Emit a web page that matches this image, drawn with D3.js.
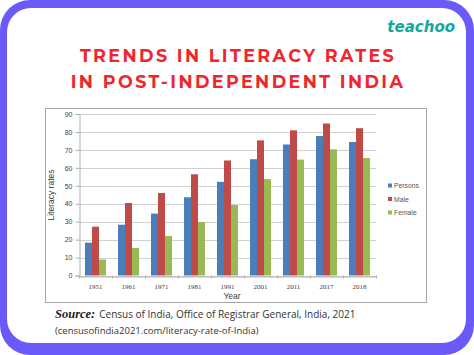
<!DOCTYPE html>
<html><head><meta charset="utf-8">
<script src="https://cdn.jsdelivr.net/npm/d3@7"></script>
<style>html,body{margin:0;padding:0;background:#fff;}svg{display:block;}</style>
</head><body>
<script>
const years = ["1951","1961","1971","1981","1991","2001","2011","2017","2018"];
const persons = [18.3, 28.3, 34.5, 43.6, 52.2, 64.8, 73.0, 77.7, 74.4];
const male = [27.2, 40.4, 46.0, 56.4, 64.1, 75.3, 80.9, 84.7, 82.1];
const female = [8.9, 15.4, 22.0, 29.8, 39.3, 53.7, 64.6, 70.3, 65.5];
const seriesNames = ["Persons","Male","Female"];
const seriesColors = ["#4a7ebb","#be4b48","#98b954"];
const yTicks = [0,10,20,30,40,50,60,70,80,90];

const W=474,H=355;
const svg=d3.select("body").append("svg").attr("width",W).attr("height",H);
svg.append("rect").attr("x",0).attr("y",0).attr("width",W).attr("height",H).attr("rx",30).attr("fill","#6a5af9");
svg.append("rect").attr("x",7).attr("y",8).attr("width",459).attr("height",335).attr("rx",24).attr("fill","#fff");

svg.append("text").attr("x",455).attr("y",32).attr("text-anchor","end")
  .attr("font-family","DejaVu Sans").attr("font-style","italic").attr("font-weight","bold")
  .attr("font-size",15).attr("fill","#14a89c").text("teachoo");

const tl=["TRENDS IN LITERACY RATES","IN POST-INDEPENDENT INDIA"];
tl.forEach((t,i)=>svg.append("text").attr("x",238).attr("y",62+i*26).attr("text-anchor","middle")
  .attr("font-family","Montserrat, Lato, 'Open Sans', sans-serif").attr("font-weight","bold")
  .attr("font-size",17.5).attr("letter-spacing",2.4).attr("fill","#f1262c").text(t));

// chart box
svg.append("rect").attr("x",45.5).attr("y",108.5).attr("width",381).attr("height",194)
  .attr("fill","#fff").attr("stroke","#a6a6a6").attr("stroke-width",1);

const x=d3.scaleBand().domain(years).range([79,376]);
const y=d3.scaleLinear().domain([0,90]).range([275.5,114]);
const xs=d3.scaleBand().domain(seriesNames).range([0,21]);
const data=[persons,male,female];

const g=svg.append("g");
g.selectAll("line.grid").data(yTicks).join("line").attr("class","grid")
  .attr("x1",79).attr("x2",376).attr("y1",d=>Math.round(y(d))+0.5).attr("y2",d=>Math.round(y(d))+0.5)
  .attr("stroke","#d0d0d0").attr("stroke-width",1);

seriesNames.forEach((s,si)=>{
  g.selectAll("rect.s"+si).data(years).join("rect").attr("class","s"+si)
    .attr("x",d=>x(d)+x.bandwidth()/2-10.5+xs(s)).attr("width",xs.bandwidth())
    .attr("y",(d,i)=>y(data[si][i])).attr("height",(d,i)=>y(0)-y(data[si][i]))
    .attr("fill",seriesColors[si]);
});

// y axis
const ya=svg.append("g").attr("transform","translate(79.5,0)")
  .call(d3.axisLeft(y).tickValues(yTicks).tickSize(4).tickPadding(3));
ya.select(".domain").attr("stroke","#b0b0b0");
ya.selectAll(".tick line").attr("stroke","#b0b0b0");
ya.selectAll("text").attr("font-family","Liberation Sans, Arial").attr("font-size",7).attr("fill","#404040");

// x axis
const xa=svg.append("g").attr("transform","translate(0,"+(Math.round(y(0))+0.5)+")")
  .call(d3.axisBottom(x).tickSize(0).tickPadding(8));
xa.select(".domain").attr("stroke","#b0b0b0");
xa.selectAll("text").attr("font-family","Liberation Serif, serif").attr("font-size",7).attr("fill","#404040");
svg.append("g").selectAll("line").data(years.concat(["end"])).join("line")
  .attr("x1",(d,i)=>Math.round(79+i*x.step())+0.5).attr("x2",(d,i)=>Math.round(79+i*x.step())+0.5)
  .attr("y1",y(0)).attr("y2",y(0)+3).attr("stroke","#b0b0b0");

svg.append("text").attr("x",232).attr("y",299).attr("text-anchor","middle")
  .attr("font-family","Liberation Sans, Arial").attr("font-size",8.5).attr("fill","#404040").text("Year");
svg.append("text").attr("transform","translate(54,195) rotate(-90)").attr("text-anchor","middle")
  .attr("font-family","Liberation Sans, Arial").attr("font-size",8.5).attr("fill","#404040").text("Literacy rates");

// legend
seriesNames.forEach((s,i)=>{
  svg.append("rect").attr("x",388).attr("y",183.5+i*13.5).attr("width",4).attr("height",4).attr("fill",seriesColors[i]);
  svg.append("text").attr("x",394).attr("y",188+i*13.5).attr("font-family","Liberation Sans, Arial")
    .attr("font-size",6.8).attr("fill","#555").text(s);
});

// source
const st=svg.append("text").attr("x",55).attr("y",318).attr("font-size",10).attr("fill","#333");
st.append("tspan").attr("font-family","Liberation Serif, serif").attr("font-weight","bold").attr("font-style","italic").attr("font-size",12.5).attr("fill","#222").text("Source:");
st.append("tspan").attr("font-family","'Open Sans', Lato, sans-serif").attr("dx",4).text("Census of India, Office of Registrar General, India, 2021");
svg.append("text").attr("x",55).attr("y",334).attr("font-size",9.5).attr("fill","#333")
  .attr("font-family","'Open Sans', Lato, sans-serif").text("(censusofindia2021.com/literacy-rate-of-India)");
</script>
</body></html>
